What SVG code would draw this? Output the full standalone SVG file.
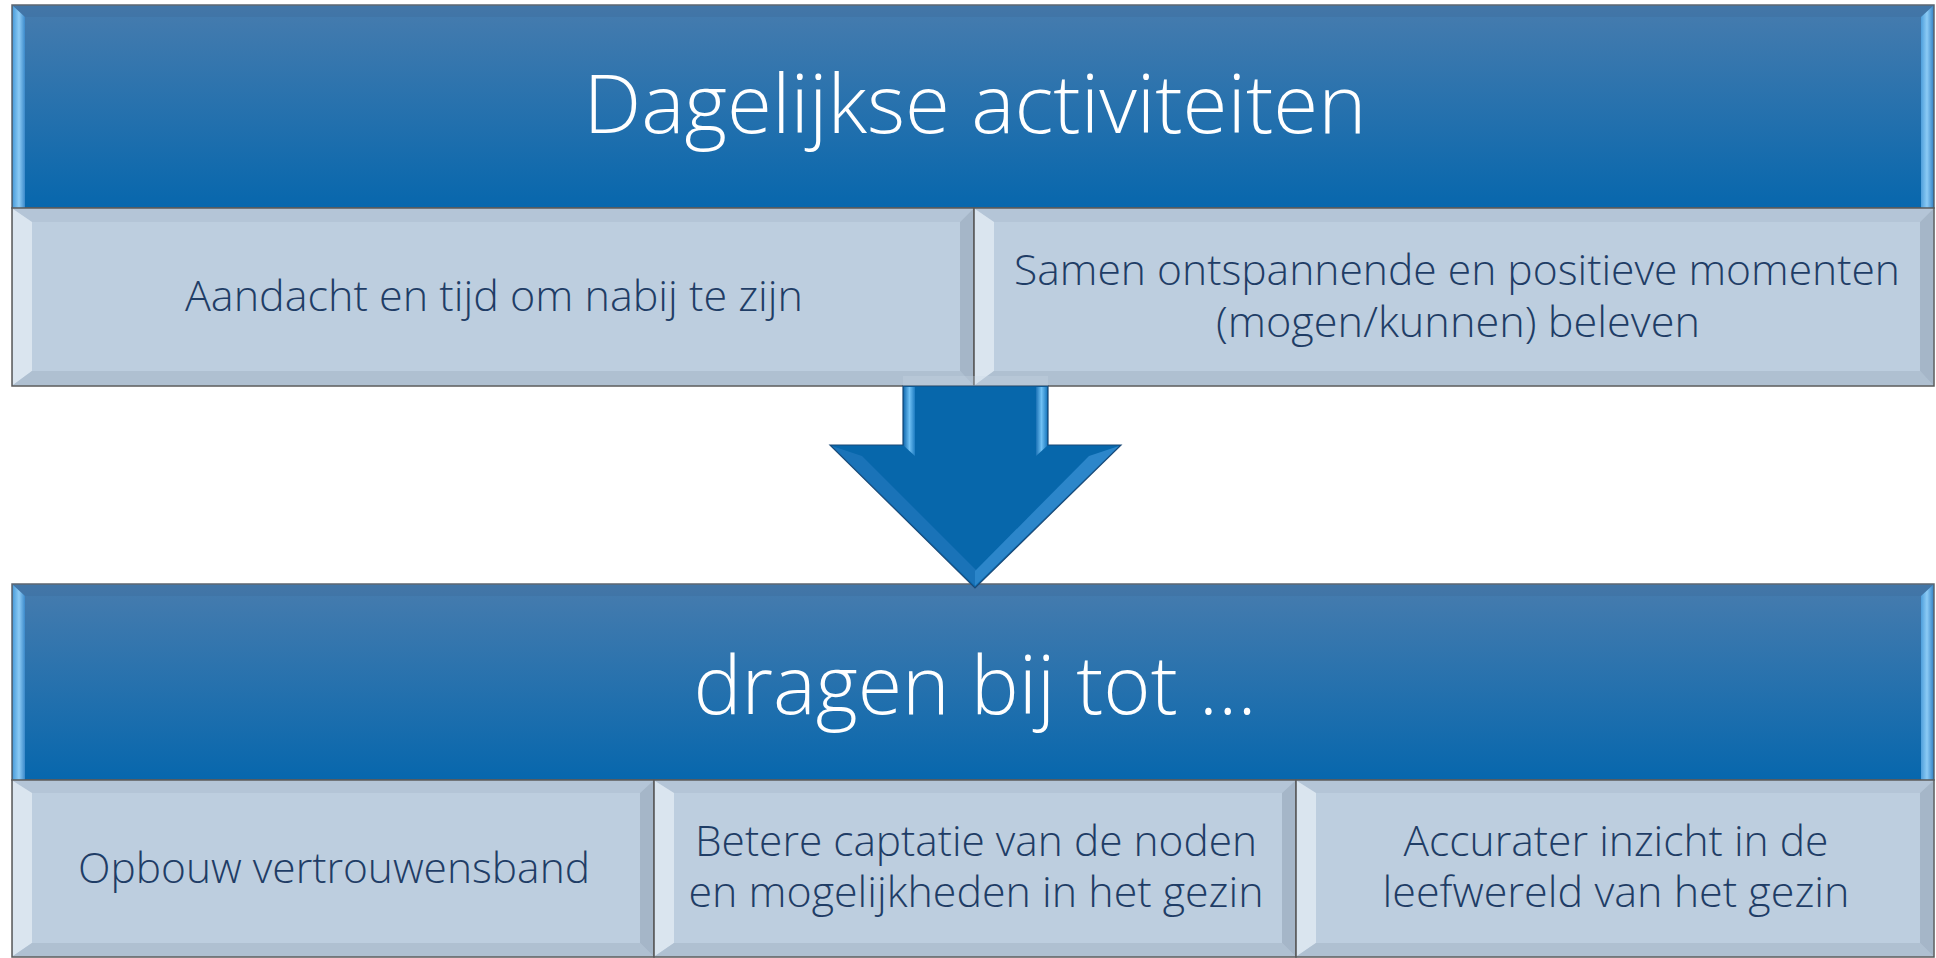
<svg xmlns="http://www.w3.org/2000/svg" width="1936" height="958" viewBox="0 0 1936 958">
<defs>
<linearGradient id="hdr" x1="0" y1="0" x2="0" y2="1">
<stop offset="0" stop-color="#477CAE"/>
<stop offset="1" stop-color="#0767AD"/>
</linearGradient>
<linearGradient id="edge" x1="0" y1="0" x2="1" y2="0">
<stop offset="0" stop-color="#4E9FDC"/>
<stop offset="0.5" stop-color="#8CCBF5"/>
<stop offset="1" stop-color="#3C8ACB"/>
</linearGradient>
<linearGradient id="shaftEdgeL" x1="0" y1="0" x2="1" y2="0">
<stop offset="0" stop-color="#1B72B6"/>
<stop offset="0.5" stop-color="#6FC0F4"/>
<stop offset="1" stop-color="#1D7CC2"/>
</linearGradient>
</defs>
<style>
.hframe{fill:url(#hdr);stroke:#5C6670;stroke-width:1.5}
.htop{fill:#3F6F9F;opacity:0.45}
.hedge{fill:url(#edge)}
.box{fill:#BDCEDF;stroke:#5A5A5A;stroke-width:1.5}
.bt{fill:#B4C5D7}
.bl{fill:#DAE5EF}
.bb{fill:#AFC0D1}
.br{fill:#A5B6C8}
.title{font-family:"Open Sans","Liberation Sans",sans-serif;font-weight:300;fill:#FFFFFF;font-size:82px;text-anchor:middle}
.lbl{font-family:"Open Sans","Liberation Sans",sans-serif;font-weight:300;fill:#1F3D66;font-size:43px;text-anchor:middle}
.arrow{fill:#0767AB;stroke:#1B4A78;stroke-width:1.2}
</style>

<g id="header-top">
<rect class="hframe" x="12" y="5" width="1922" height="203"/>
<polygon class="htop" points="13,6 1933,6 1921,17 25,17"/>
<polygon class="hedge" points="13,6 25,17 25,208 13,208"/>
<polygon class="hedge" points="1933,6 1921,17 1921,208 1933,208"/>
<text class="title" x="975" y="133" textLength="783" lengthAdjust="spacingAndGlyphs">Dagelijkse activiteiten</text>
</g>

<g id="box-aandacht">
<rect class="box" x="12" y="208" width="962" height="178"/>
<polygon class="bt" points="13,209 973,209 960,222 32,222"/>
<polygon class="bl" points="13,209 32,222 32,371 13,385"/>
<polygon class="bb" points="13,385 32,371 960,371 973,385"/>
<polygon class="br" points="973,209 960,222 960,371 973,385"/>
<text class="lbl" x="494" y="311" textLength="618" lengthAdjust="spacingAndGlyphs">Aandacht en tijd om nabij te zijn</text>
</g>

<g id="box-samen">
<rect class="box" x="974" y="208" width="960" height="178"/>
<polygon class="bt" points="975,209 1933,209 1920,222 994,222"/>
<polygon class="bl" points="975,209 994,222 994,371 975,385"/>
<polygon class="bb" points="975,385 994,371 1920,371 1933,385"/>
<polygon class="br" points="1933,209 1920,222 1920,371 1933,385"/>
<text class="lbl" x="1457" y="285" textLength="886" lengthAdjust="spacingAndGlyphs">Samen ontspannende en positieve momenten</text>
<text class="lbl" x="1458" y="337" textLength="484" lengthAdjust="spacingAndGlyphs">(mogen/kunnen) beleven</text>
</g>

<g id="header-bottom">
<rect class="hframe" x="12" y="584" width="1922" height="196"/>
<polygon class="htop" points="13,585 1933,585 1921,596 25,596"/>
<polygon class="hedge" points="13,585 25,596 25,780 13,780"/>
<polygon class="hedge" points="1933,585 1921,596 1921,780 1933,780"/>
<text class="title" x="975" y="714" textLength="563" lengthAdjust="spacingAndGlyphs">dragen bij tot …</text>
</g>

<g id="box-opbouw">
<rect class="box" x="12" y="780" width="642" height="177"/>
<polygon class="bt" points="13,781 653,781 640,793 32,793"/>
<polygon class="bl" points="13,781 32,793 32,943 13,956"/>
<polygon class="bb" points="13,956 32,943 640,943 653,956"/>
<polygon class="br" points="653,781 640,793 640,943 653,956"/>
<text class="lbl" x="334" y="883" textLength="512" lengthAdjust="spacingAndGlyphs">Opbouw vertrouwensband</text>
</g>

<g id="box-betere">
<rect class="box" x="654" y="780" width="642" height="177"/>
<polygon class="bt" points="655,781 1295,781 1282,793 674,793"/>
<polygon class="bl" points="655,781 674,793 674,943 655,956"/>
<polygon class="bb" points="655,956 674,943 1282,943 1295,956"/>
<polygon class="br" points="1295,781 1282,793 1282,943 1295,956"/>
<text class="lbl" x="976" y="856" textLength="562" lengthAdjust="spacingAndGlyphs">Betere captatie van de noden</text>
<text class="lbl" x="976" y="907" textLength="575" lengthAdjust="spacingAndGlyphs">en mogelijkheden in het gezin</text>
</g>

<g id="box-accurater">
<rect class="box" x="1296" y="780" width="638" height="177"/>
<polygon class="bt" points="1297,781 1933,781 1920,793 1316,793"/>
<polygon class="bl" points="1297,781 1316,793 1316,943 1297,956"/>
<polygon class="bb" points="1297,956 1316,943 1920,943 1933,956"/>
<polygon class="br" points="1933,781 1920,793 1920,943 1933,956"/>
<text class="lbl" x="1616" y="856" textLength="425" lengthAdjust="spacingAndGlyphs">Accurater inzicht in de</text>
<text class="lbl" x="1616" y="907" textLength="467" lengthAdjust="spacingAndGlyphs">leefwereld van het gezin</text>
</g>

<g id="connectors">
<polygon class="arrow" points="903,386 1048,386 1048,445 1121,445 975,588 830,445 903,445"/>
<polygon fill="url(#shaftEdgeL)" points="904,387 915,387 915,456 904,446"/>
<polygon fill="url(#shaftEdgeL)" points="1036,387 1047,387 1047,446 1036,456"/>
<polygon fill="#1A73B8" points="832,446 862,456 977,571 975,586"/>
<polygon fill="#2C86CA" points="1119,446 1089,456 975,571 975,586"/>
<rect x="903" y="376" width="145" height="10" fill="#C9D6E3" opacity="0.3"/>
</g>
</svg>
